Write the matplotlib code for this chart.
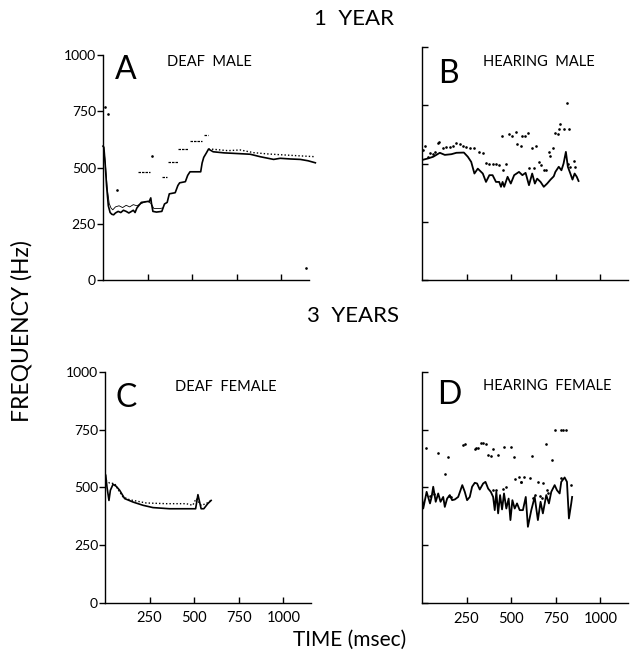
import matplotlib.pyplot as plt
import numpy as np

plt.rcParams['font.family'] = ['Lato', 'DejaVu Sans']

# ---- panel A: 1 year, deaf male ----
a_solid_t = [0, 5, 12, 20, 30, 40, 50, 60, 70, 85, 100, 115, 130, 145, 160, 170, 180, 190, 200, 215,
             240, 260, 268, 272, 280, 300, 330, 345, 360, 372, 405, 420, 430, 462, 475, 488, 548,
             556, 565, 580, 592, 618, 680, 732, 826, 882, 957, 994, 1050, 1107, 1150, 1191]
a_solid_f = [595, 590, 520, 420, 330, 300, 292, 290, 298, 305, 300, 310, 305, 298, 305, 310, 300,
             320, 330, 345, 348, 350, 365, 340, 305, 302, 305, 338, 345, 383, 388, 420, 432, 437,
             465, 481, 481, 520, 545, 565, 582, 570, 565, 563, 559, 548, 536, 541, 538, 536, 530, 521]
a_thin_t = [0, 8, 15, 25, 35, 45, 55, 70, 90, 110, 130, 150, 170, 190, 210, 230, 250, 270, 285, 300, 320, 335]
a_thin_f = [590, 560, 500, 400, 340, 320, 312, 325, 330, 322, 332, 325, 335, 330, 338, 345, 350, 340, 318, 318, 318, 320]
a_dot_t = [592, 620, 700, 770, 845, 930, 1013, 1100, 1191]
a_dot_f = [582, 581, 575, 578, 566, 560, 556, 552, 548]
a_dash_t0 = [198, 330, 367, 423, 489, 565]
a_dash_t1 = [264, 358, 423, 479, 554, 590]
a_dash_f = [481, 456, 526, 581, 619, 644]
a_pt_t = [11, 26, 77, 273, 1140]
a_pt_f = [770, 738, 400, 551, 55]

# ---- panel B: 1 year, hearing male ----
b_solid_t = [0, 35, 63, 100, 128, 165, 193, 235, 257, 276, 294, 313, 341, 359, 378, 396, 415, 433,
             443, 452, 461, 480, 498, 517, 544, 563, 581, 600, 618, 633, 646, 665, 683, 702, 721,
             739, 748, 767, 782, 794, 807, 818, 832, 844, 856, 868, 878]
b_solid_f = [515, 522, 529, 546, 537, 540, 546, 547, 529, 507, 457, 478, 457, 421, 450, 450, 421, 421,
             400, 421, 400, 443, 414, 450, 464, 450, 460, 407, 457, 414, 435, 421, 400, 414, 431,
             445, 464, 486, 471, 500, 550, 486, 457, 431, 457, 443, 425]
b_pt_t = [5, 17, 35, 44, 60, 72, 87, 94, 118, 137, 156, 174, 193, 211, 230, 248, 267, 294, 322, 341,
          359, 378, 396, 415, 433, 452, 446, 470, 489, 507, 526, 535, 554, 560, 578, 594, 600, 618,
          628, 640, 655, 665, 683, 693, 711, 720, 736, 748, 761, 767, 776, 794, 812, 818, 822, 830,
          850, 858]
b_pt_f = [560, 575, 529, 546, 540, 550, 589, 593, 565, 570, 572, 575, 586, 582, 575, 570, 567, 565,
          550, 546, 503, 500, 498, 497, 495, 474, 620, 500, 625, 620, 635, 583, 575, 618, 618, 630,
          481, 565, 481, 575, 507, 495, 471, 471, 548, 533, 565, 629, 625, 646, 668, 646, 760, 500,
          646, 483, 510, 483]

# ---- panel C: 3 years, deaf female ----
c_solid_t = [0, 4, 11, 22, 30, 45, 63, 82, 110, 157, 213, 269, 362, 455, 508, 521, 539, 554, 576, 595]
c_solid_f = [560, 553, 502, 444, 488, 514, 505, 488, 452, 437, 423, 413, 408, 408, 408, 469, 408, 408, 430, 444]
c_dot_t = [4, 26, 54, 73, 101, 138, 231, 343, 455, 492, 511, 539, 567, 595]
c_dot_f = [531, 519, 517, 491, 459, 447, 433, 430, 430, 423, 452, 423, 430, 444]

# ---- panel D: 3 years, hearing female ----
d_solid_t = [0, 7, 26, 45, 54, 63, 77, 91, 104, 119, 128, 141, 156, 169, 184, 203, 226, 240, 253,
             268, 281, 296, 309, 324, 343, 356, 371, 386, 399, 408, 417, 427, 438, 449, 460, 473,
             486, 496, 507, 520, 533, 548, 566, 582, 594, 613, 632, 650, 665, 678, 697, 712, 725,
             744, 757, 772, 781, 800, 813, 824, 837, 842]
d_solid_f = [459, 409, 481, 431, 459, 503, 438, 474, 438, 459, 416, 452, 467, 445, 448, 459, 510,
             481, 445, 459, 503, 520, 517, 491, 517, 524, 495, 481, 459, 402, 481, 388, 467, 405,
             474, 409, 452, 359, 445, 409, 431, 402, 402, 459, 330, 402, 459, 359, 438, 388, 467,
             431, 481, 510, 488, 474, 524, 543, 524, 366, 431, 459]
d_pt_t = [24, 91, 147, 128, 231, 240, 296, 305, 315, 333, 343, 361, 371, 389, 399, 427, 460, 497,
          515, 520, 542, 557, 397, 416, 453, 472, 744, 781, 790, 809, 694, 619, 731, 570, 604, 558,
          653, 678, 777, 837, 699, 708, 632, 623, 664, 673, 45, 70, 150, 160]
d_pt_f = [669, 647, 632, 560, 682, 687, 668, 672, 672, 690, 693, 687, 639, 636, 668, 639, 675, 675,
          632, 535, 543, 524, 489, 489, 492, 501, 750, 747, 747, 747, 687, 636, 618, 546, 539, 524,
          524, 517, 539, 510, 488, 477, 469, 456, 464, 455, 462, 470, 465, 460]

x_ticks = [250, 500, 750, 1000]
y_ticks = [0, 250, 500, 750, 1000]

fig = plt.figure(figsize=(6.42, 6.62), dpi=100)
ax_a = fig.add_axes([0.1604, 0.5770, 0.3333, 0.3399])
ax_b = fig.add_axes([0.6573, 0.5770, 0.3333, 0.3520])
ax_c = fig.add_axes([0.1636, 0.0891, 0.3333, 0.3490])
ax_d = fig.add_axes([0.6573, 0.0887, 0.3333, 0.3500])


def style_axes(ax, ylabels, xlabels):
    ax.set_xlim(0, 1200)
    ax.set_ylim(0, 1000)
    for s in ['top', 'right']:
        ax.spines[s].set_visible(False)
    ax.spines['bottom'].set_bounds(0, 1155)
    ax.spines['left'].set_linewidth(1.0)
    ax.spines['bottom'].set_linewidth(1.0)
    ax.set_xticks(x_ticks)
    ax.set_yticks(y_ticks)
    ax.tick_params(axis='x', direction='in', length=4, width=1.0, labelsize=10.5, pad=6)
    ax.tick_params(axis='y', direction='out' if ylabels else 'in', length=4, width=1.0,
                   labelsize=10, pad=1)
    if not xlabels:
        ax.set_xticklabels([])
    if not ylabels:
        ax.set_yticklabels([])


style_axes(ax_a, True, False)
style_axes(ax_b, False, False)
style_axes(ax_c, True, True)
style_axes(ax_d, False, True)

# A
ax_a.plot(a_solid_t, a_solid_f, color='black', lw=1.2, clip_on=False)
ax_a.plot(a_thin_t, a_thin_f, color='black', lw=0.6)
ax_a.plot(a_dot_t, a_dot_f, color='black', lw=1.0, ls=(0, (1, 1.5)), clip_on=False)
ax_a.hlines(a_dash_f, a_dash_t0, a_dash_t1, color='black', lw=0.9, linestyles=(0, (2, 0.8)))
ax_a.plot(a_pt_t, a_pt_f, 'k.', ms=1.8)

# B
ax_b.plot(b_solid_t, b_solid_f, color='black', lw=1.3)
ax_b.plot(b_pt_t, b_pt_f, 'k.', ms=1.8)

# C
ax_c.plot(c_solid_t, c_solid_f, color='black', lw=1.2)
ax_c.plot(c_dot_t, c_dot_f, color='black', lw=1.0, ls=(0, (1, 1.5)))

# D
ax_d.plot(d_solid_t, d_solid_f, color='black', lw=1.3)
ax_d.plot(d_pt_t, d_pt_f, 'k.', ms=1.8)

letter_kw = dict(fontsize=23, va='baseline', ha='left')
label_kw = dict(fontsize=10.5, va='baseline', ha='left')
ax_a.text(67, 892, 'A', **letter_kw)
ax_a.text(360, 951, 'DEAF  MALE', **label_kw)
ax_b.text(89, 847, 'B', **letter_kw)
ax_b.text(340, 918, 'HEARING  MALE', **label_kw)
ax_c.text(56, 850, 'C', **letter_kw)
ax_c.text(392, 919, 'DEAF  FEMALE', **label_kw)
ax_d.text(84, 859, 'D', **letter_kw)
ax_d.text(341, 919, 'HEARING  FEMALE', **label_kw)

fig.text(0.552, 0.972, '1  YEAR', fontsize=16, ha='center', va='center')
fig.text(0.550, 0.522, '3  YEARS', fontsize=16, ha='center', va='center')
fig.text(0.034, 0.50, 'FREQUENCY (Hz)', fontsize=16.5, rotation=90, ha='center', va='center')
fig.text(0.545, 0.033, 'TIME (msec)', fontsize=15, ha='center', va='center')

fig.savefig('out.png', dpi=100)
